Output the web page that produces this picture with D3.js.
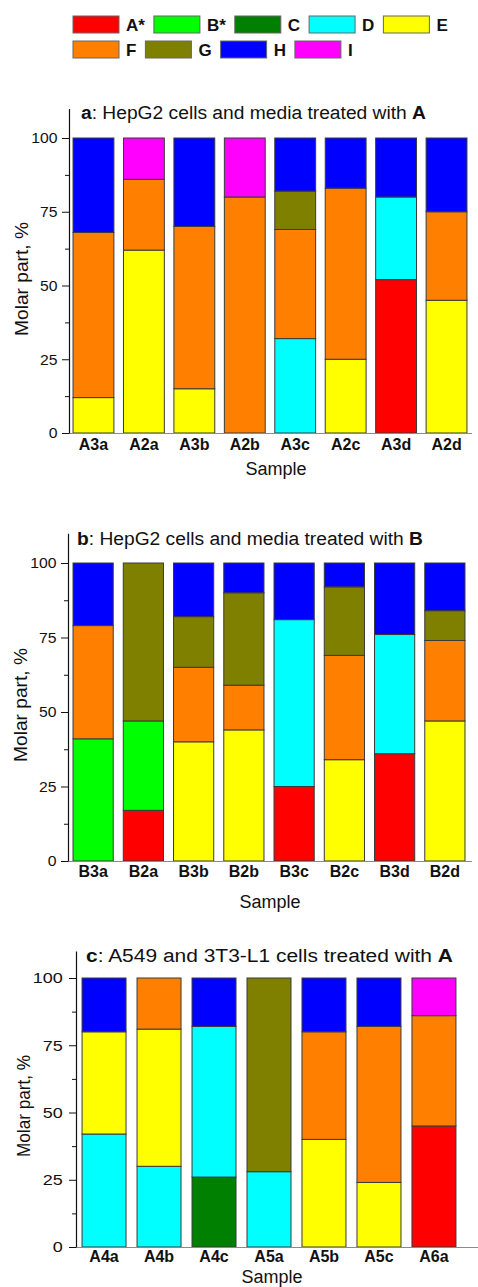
<!DOCTYPE html>
<html>
<head>
<meta charset="utf-8">
<script src="https://cdn.jsdelivr.net/npm/d3@7/dist/d3.min.js"></script>
<style>
  body { margin: 0; background: #fff; }
  svg { display: block; font-family: "Liberation Sans", Arial, sans-serif; }
</style>
</head>
<body>
<svg id="chart"></svg>
<script>
// series, stacked bottom -> top in this order
const series = ['A*', 'B*', 'C', 'D', 'E', 'F', 'G', 'H', 'I']
const seriesColors = ['#ff0000', '#00ff00', '#008000', '#00ffff', '#ffff00', '#ff8000', '#808000', '#0000ff', '#ff00ff']

const samplesA = ['A3a', 'A2a', 'A3b', 'A2b', 'A3c', 'A2c', 'A3d', 'A2d']
// molar part, % for each sample:  A*  B*  C   D   E   F   G   H   I
const valuesA = [
  [0, 0, 0, 0, 12, 56, 0, 32, 0],
  [0, 0, 0, 0, 62, 24, 0, 0, 14],
  [0, 0, 0, 0, 15, 55, 0, 30, 0],
  [0, 0, 0, 0, 0, 80, 0, 0, 20],
  [0, 0, 0, 32, 0, 37, 13, 18, 0],
  [0, 0, 0, 0, 25, 58, 0, 17, 0],
  [52, 0, 0, 28, 0, 0, 0, 20, 0],
  [0, 0, 0, 0, 45, 30, 0, 25, 0]
]

const samplesB = ['B3a', 'B2a', 'B3b', 'B2b', 'B3c', 'B2c', 'B3d', 'B2d']
const valuesB = [
  [0, 41, 0, 0, 0, 38, 0, 21, 0],
  [17, 30, 0, 0, 0, 0, 53, 0, 0],
  [0, 0, 0, 0, 40, 25, 17, 18, 0],
  [0, 0, 0, 0, 44, 15, 31, 10, 0],
  [25, 0, 0, 56, 0, 0, 0, 19, 0],
  [0, 0, 0, 0, 34, 35, 23, 8, 0],
  [36, 0, 0, 40, 0, 0, 0, 24, 0],
  [0, 0, 0, 0, 47, 27, 10, 16, 0]
]

const samplesC = ['A4a', 'A4b', 'A4c', 'A5a', 'A5b', 'A5c', 'A6a']
const valuesC = [
  [0, 0, 0, 42, 38, 0, 0, 20, 0],
  [0, 0, 0, 30, 51, 19, 0, 0, 0],
  [0, 0, 26, 56, 0, 0, 0, 18, 0],
  [0, 0, 0, 28, 0, 0, 72, 0, 0],
  [0, 0, 0, 0, 40, 40, 0, 20, 0],
  [0, 0, 0, 0, 24, 58, 0, 18, 0],
  [45, 0, 0, 0, 0, 41, 0, 0, 14]
]

const majorTicks = [0, 25, 50, 75, 100]
const minorTicks = [12.5, 37.5, 62.5, 87.5]

const W = 478
const H = 1287

const svg = d3.select('#chart')
  .attr('width', W)
  .attr('height', H)

const color = d3.scaleOrdinal().domain(series).range(seriesColors)

// 图例
const legend = svg.append('g').attr('class', 'legend')
const legendRows = [series.slice(0, 5), series.slice(5)]
legendRows.forEach((row, r) => {
  let x = 73
  const top = r === 0 ? 16 : 41
  row.forEach(name => {
    legend.append('rect')
      .attr('x', x)
      .attr('y', top)
      .attr('width', 46)
      .attr('height', 17)
      .attr('fill', color(name))
      .attr('stroke', '#666')
      .attr('stroke-width', 1)
    const t = legend.append('text')
      .attr('x', x + 53)
      .attr('y', top + 15)
      .style('font-size', '17px')
      .style('font-weight', 'bold')
      .attr('fill', '#111')
      .text(name)
    x = x + 53 + t.node().getComputedTextLength() + 9
  })
})

const panels = [
  {
    key: 'a', rest: ': HepG2 cells and media treated with ', bold: 'A',
    samples: samplesA, values: valuesA,
    x0: 69, x1: 471, padIn: 0.19, padOut: 0.08, axisEnd: 472,
    y0: 433, y100: 138,
    titleX: 81, titleY: 119, titleLen: 345,
    yTitleX: 28, yTitleY: 279, yTitleLen: 114,
    labelPad: 5.5, sampleX: 276, sampleY: 475, tickSx: 1.05
  },
  {
    key: 'b', rest: ': HepG2 cells and media treated with ', bold: 'B',
    samples: samplesB, values: valuesB,
    x0: 68, x1: 470, padIn: 0.2, padOut: 0.1, axisEnd: 472,
    y0: 861, y100: 563,
    titleX: 77, titleY: 545, titleLen: 346,
    yTitleX: 27, yTitleY: 705, yTitleLen: 114,
    labelPad: 4.5, sampleX: 270, sampleY: 908, tickSx: 1.05
  },
  {
    key: 'c', rest: ': A549 and 3T3-L1 cells treated with ', bold: 'A',
    samples: samplesC, values: valuesC,
    x0: 76, x1: 462, padIn: 0.2, padOut: 0.11, axisEnd: 478,
    y0: 1247, y100: 978,
    titleX: 86, titleY: 962, titleLen: 367,
    yTitleX: 30, yTitleY: 1106, yTitleLen: 102,
    labelPad: 3.5, sampleX: 272, sampleY: 1283, tickSx: 1.2
  }
]

panels.forEach(p => {
  const g = svg.append('g').attr('class', `panel panel-${p.key}`)

  const x = d3.scaleBand()
    .domain(p.samples)
    .range([p.x0, p.x1])
    .paddingInner(p.padIn)
    .paddingOuter(p.padOut)

  const yTop = p.y0 - 1.1 * (p.y0 - p.y100)
  const y = d3.scaleLinear()
    .domain([0, 110])
    .range([p.y0, yTop])

  // 堆叠
  const rows = p.samples.map((s, i) => {
    const o = { sample: s }
    series.forEach((name, j) => { o[name] = p.values[i][j] })
    return o
  })
  const stacked = d3.stack().keys(series)(rows)

  const layer = g.selectAll('.layer')
    .data(stacked)
    .enter().append('g')
    .attr('class', 'layer')
    .attr('fill', d => color(d.key))

  layer.selectAll('rect')
    .data(d => d.filter(v => v[1] - v[0] > 0))
    .enter().append('rect')
    .attr('x', d => x(d.data.sample))
    .attr('y', d => y(d[1]))
    .attr('width', x.bandwidth())
    .attr('height', d => y(d[0]) - y(d[1]))
    .attr('stroke', '#3a3a3a')
    .attr('stroke-width', 1)

  // x 轴线
  g.append('line')
    .attr('x1', p.x0)
    .attr('x2', p.axisEnd)
    .attr('y1', p.y0 + 0.5)
    .attr('y2', p.y0 + 0.5)
    .attr('stroke', '#8a8a8a')
    .attr('stroke-width', 1.2)

  // y 轴
  const yAxis = g.append('g')
    .attr('transform', `translate(${p.x0},0)`)
    .call(d3.axisLeft(y).tickValues(majorTicks).tickSize(7).tickSizeOuter(0).tickPadding(4))
  yAxis.select('.domain').attr('stroke', '#111').attr('stroke-width', 1.2)
  yAxis.selectAll('.tick line').attr('stroke', '#111')
  yAxis.selectAll('.tick text')
    .style('font-size', '15px')
    .style('font-family', '"Liberation Sans", Arial, sans-serif')
    .attr('fill', '#111')
    .attr('transform', `scale(${p.tickSx},1)`)

  const minor = g.append('g')
    .attr('transform', `translate(${p.x0},0)`)
    .call(d3.axisLeft(y).tickValues(minorTicks).tickSize(4).tickFormat(''))
  minor.select('.domain').remove()
  minor.selectAll('.tick line').attr('stroke', '#111')

  // 样品标签
  const xAxis = g.append('g')
    .attr('transform', `translate(0,${p.y0})`)
    .call(d3.axisBottom(x).tickSize(0).tickPadding(p.labelPad))
  xAxis.select('.domain').remove()
  xAxis.selectAll('.tick text')
    .style('font-size', '16px')
    .style('font-weight', 'bold')
    .style('font-family', '"Liberation Sans", Arial, sans-serif')
    .attr('fill', '#111')

  // 标题
  const title = g.append('text')
    .attr('x', p.titleX)
    .attr('y', p.titleY)
    .attr('textLength', p.titleLen)
    .attr('lengthAdjust', 'spacingAndGlyphs')
    .style('font-size', '18px')
    .attr('fill', '#111')
  title.append('tspan').style('font-weight', 'bold').text(p.key)
  title.append('tspan').text(p.rest)
  title.append('tspan').style('font-weight', 'bold').text(p.bold)

  g.append('text')
    .attr('x', p.sampleX)
    .attr('y', p.sampleY)
    .attr('text-anchor', 'middle')
    .style('font-size', '18px')
    .attr('fill', '#111')
    .text('Sample')

  g.append('text')
    .attr('transform', `translate(${p.yTitleX},${p.yTitleY}) rotate(-90)`)
    .attr('text-anchor', 'middle')
    .attr('textLength', p.yTitleLen)
    .attr('lengthAdjust', 'spacingAndGlyphs')
    .style('font-size', '19px')
    .attr('fill', '#111')
    .text('Molar part, %')
})
</script>
</body>
</html>
